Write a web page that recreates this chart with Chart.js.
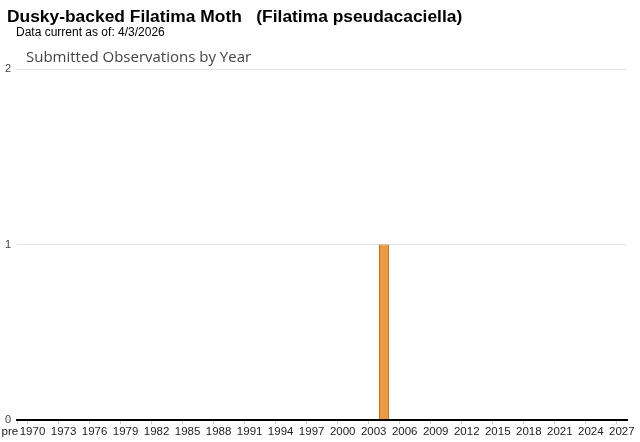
<!DOCTYPE html>
<html>
<head>
<meta charset="utf-8">
<script src="https://cdn.jsdelivr.net/npm/chart.js@4/dist/chart.umd.min.js"></script>
<style>
  html, body { margin: 0; padding: 0; background: #fff; }
  #wrap { position: relative; width: 640px; height: 442px; font-family: Arial, "Liberation Sans", sans-serif; }
  #title { position: absolute; left: 7px; top: 6px; font-size: 17.4px; font-weight: bold; color: #000; white-space: pre; }
  #asof { position: absolute; left: 16px; top: 25px; font-size: 12px; color: #000; }
  #subtitle { position: absolute; left: 26px; top: 46px; font-family: "Open Sans", sans-serif; font-size: 15px; color: #444; }
  #chart { position: absolute; left: 0; top: 0; }
</style>
</head>
<body>
<div id="wrap">
  <canvas id="chart" width="640" height="442"></canvas>
  <div id="title">Dusky-backed Filatima Moth   (Filatima pseudacaciella)</div>
  <div id="asof">Data current as of: 4/3/2026</div>
  <div id="subtitle">Submitted Observations by Year</div>
</div>
<script>
"use strict";

// categories: "pre" then one per year
var years = [
    'pre', '1970', '1971', '1972', '1973', '1974', '1975', '1976', '1977', '1978', '1979',
    '1980', '1981', '1982', '1983', '1984', '1985', '1986', '1987', '1988', '1989',
    '1990', '1991', '1992', '1993', '1994', '1995', '1996', '1997', '1998', '1999',
    '2000', '2001', '2002', '2003', '2004', '2005', '2006', '2007', '2008', '2009',
    '2010', '2011', '2012', '2013', '2014', '2015', '2016', '2017', '2018', '2019',
    '2020', '2021', '2022', '2023', '2024', '2025', '2026', '2027'
];
var observations = [
    0, 0, 0, 0, 0, 0, 0, 0, 0, 0, 0,
    0, 0, 0, 0, 0, 0, 0, 0, 0, 0,
    0, 0, 0, 0, 0, 0, 0, 0, 0, 0,
    0, 0, 0, 0, 1, 0, 0, 0, 0, 0,
    0, 0, 0, 0, 0, 0, 0, 0, 0, 0,
    0, 0, 0, 0, 0, 0, 0, 0
];
var yTicks = [0, 1, 2];

function isLabelled(i) {
    return i > 0 && (i - 1) % 3 === 0;
}

// "pre" sits left of its slot so it doesn't run into 1970
var preLabel = {
    id: 'preLabel',
    afterDraw: function (chart) {
        var ctx = chart.ctx;
        var x = chart.scales.x.getPixelForValue(0);
        ctx.save();
        ctx.font = '11.5px Arial, "Liberation Sans", sans-serif';
        ctx.fillStyle = '#222';
        ctx.textAlign = 'right';
        ctx.textBaseline = 'middle';
        ctx.fillText(years[0], x - 4, 432);
        ctx.restore();
    }
};

new Chart(document.getElementById('chart'), {
    type: 'bar',
    data: {
        labels: years,
        datasets: [{
            label: 'Observations',
            data: observations,
            backgroundColor: '#eb9a45',
            borderColor: '#c0681a',
            borderWidth: 1,
            barPercentage: 0.97,
            categoryPercentage: 1.0
        }]
    },
    options: {
        responsive: false,
        animation: false,
        layout: { padding: { top: 69, right: 13, left: 0, bottom: 0 } },
        plugins: {
            legend: { display: false },
            tooltip: { enabled: false }
        },
        scales: {
            x: {
                afterFit: function (scale) { scale.height = 22; },
                border: { display: true, color: '#000', width: 2 },
                grid: {
                    drawOnChartArea: false,
                    drawTicks: true,
                    tickLength: 4,
                    color: function (c) {
                        return (c.index === 0 || isLabelled(c.index)) ? '#ccc' : 'rgba(0,0,0,0)';
                    }
                },
                ticks: {
                    autoSkip: false,
                    maxRotation: 0,
                    minRotation: 0,
                    padding: 1,
                    color: '#222',
                    font: { family: 'Arial, "Liberation Sans", sans-serif', size: 11.5 },
                    callback: function (v, i) {
                        return isLabelled(i) ? years[i] : '';
                    }
                }
            },
            y: {
                min: yTicks[0],
                max: yTicks[yTicks.length - 1],
                afterFit: function (scale) { scale.width = 17; },
                afterBuildTicks: function (scale) {
                    scale.ticks = yTicks.map(function (v) { return { value: v }; });
                },
                border: { display: false },
                grid: {
                    drawTicks: false,
                    color: function (c) { return c.tick && c.tick.value === 0 ? '#000' : '#e3e3e3'; },
                    lineWidth: function (c) { return c.tick && c.tick.value === 0 ? 2 : 1; }
                },
                ticks: {
                    padding: 6,
                    color: '#444',
                    font: { family: 'Arial, "Liberation Sans", sans-serif', size: 11 }
                }
            }
        }
    },
    plugins: [preLabel]
});
</script>
</body>
</html>
